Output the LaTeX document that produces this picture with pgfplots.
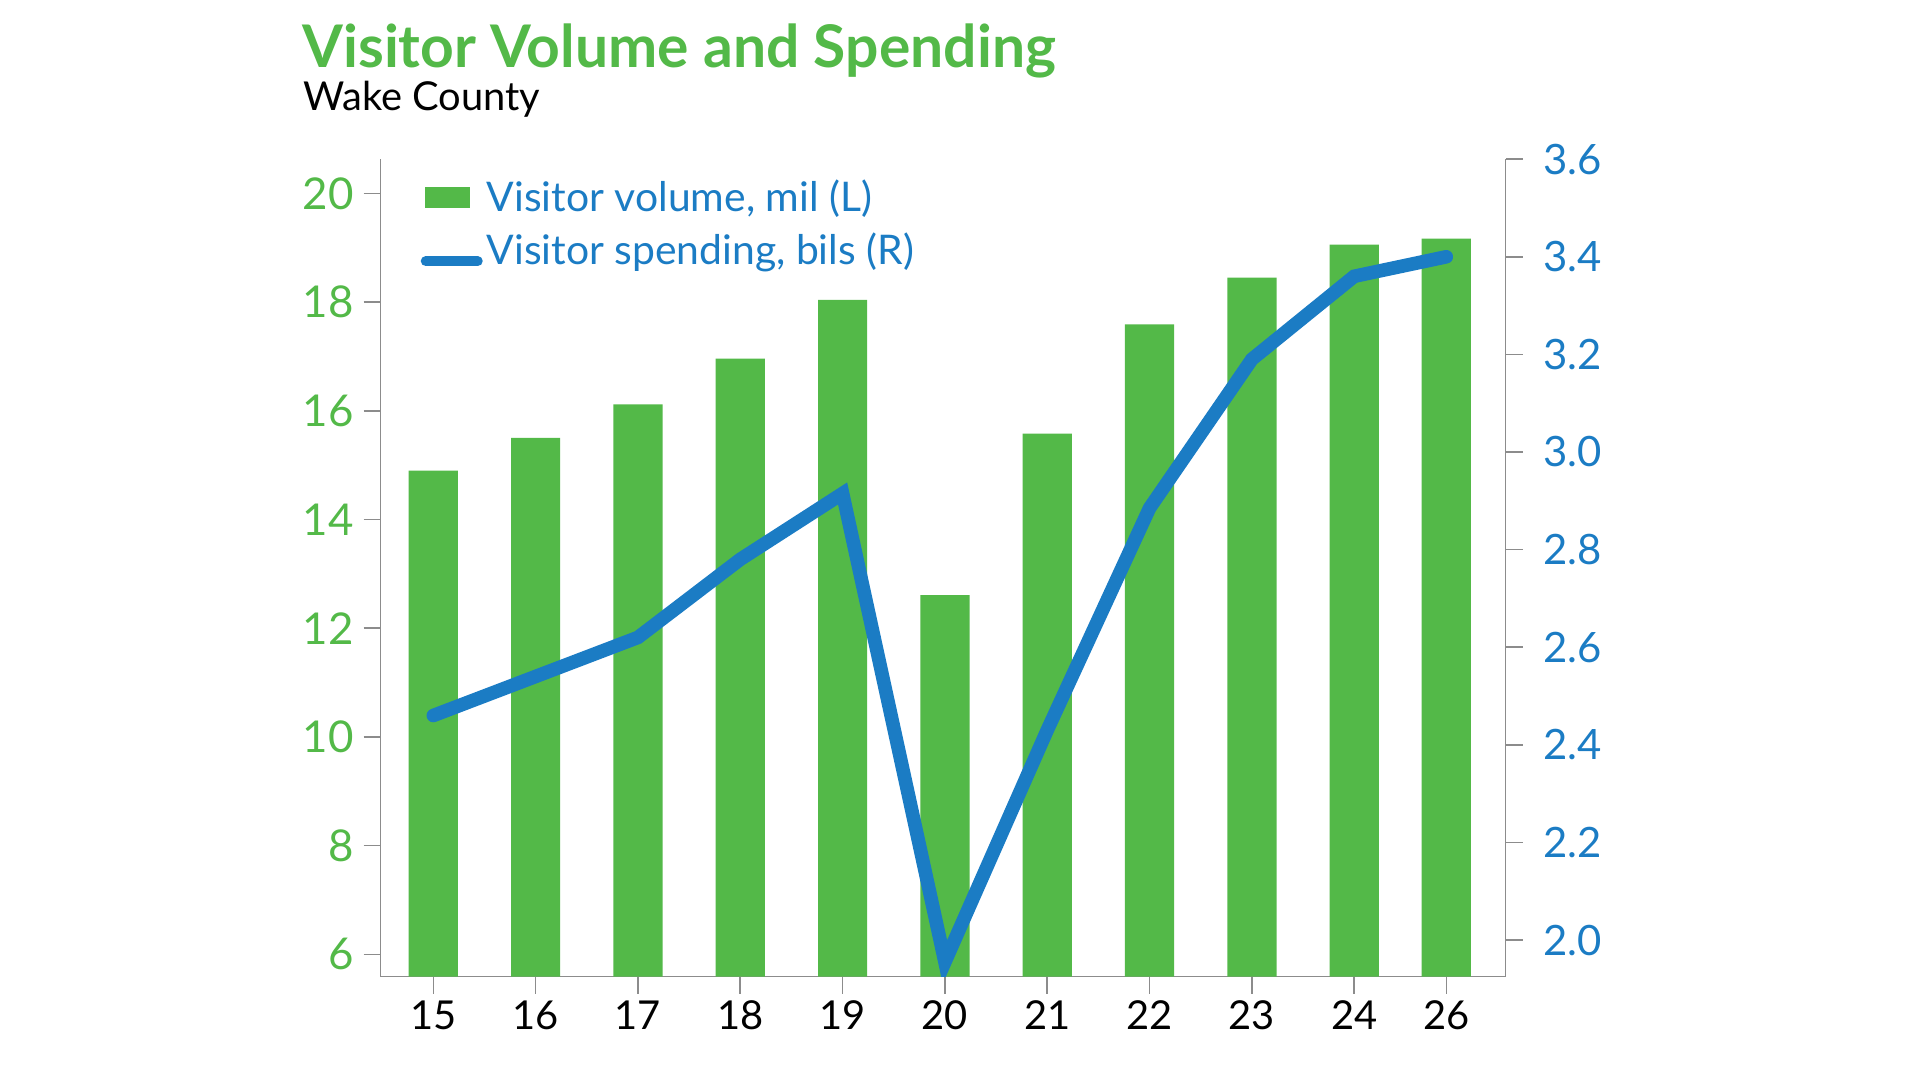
\documentclass[border=0pt]{standalone}
\usepackage{pgfplots}
\pgfplotsset{compat=1.18}
\usepackage{fontspec}
\setmainfont{Lato}
\definecolor{vgreen}{RGB}{83,185,72}
\definecolor{vblue}{RGB}{27,124,196}
\definecolor{axgray}{RGB}{140,140,140}
\begin{document}
\begin{tikzpicture}[x=0.5bp,y=0.5bp]
\useasboundingbox (0,0) rectangle (1920,1080);
\node[anchor=base west, font=\fontsize{29.5}{33}\selectfont\bfseries, text=vgreen, inner sep=0] at (302,1012) {Visitor Volume and Spending};
\node[anchor=base west, font=\fontsize{20}{24}\selectfont, inner sep=0] at (303,969) {Wake County};
\begin{axis}[
  at={(190.3bp,51.7bp)}, anchor=south west,
  width=562.5bp, height=408.7bp, scale only axis,
  xmin=-0.515, xmax=10.48, ymin=5.59, ymax=20.63,
  axis x line*=bottom, axis y line*=left,
  axis line style={axgray, line width=0.8pt},
  xtick={0,1,2,3,4,5,6,7,8,9,9.9},
  xticklabels={15,16,17,18,19,20,21,22,23,24,26},
  ytick={6,8,10,12,14,16,18,20},
  tick style={axgray, line width=0.8pt},
  tick align=outside, major tick length=8.5bp,
  yticklabel style={text=vgreen, font=\fontsize{22}{25}\selectfont, xshift=-1.5bp},
  xticklabel style={font=\fontsize{20}{24}\selectfont},
  /pgf/number format/assume math mode=true,
]
\addplot[ybar, bar width=24.6bp, fill=vgreen, draw=none] coordinates {
(0,14.9) (1,15.5) (2,16.12) (3,16.96) (4,18.04) (5,12.61) (6,15.58) (7,17.59) (8,18.45) (9,19.06) (9.9,19.17)};
\end{axis}
\begin{axis}[
  at={(190.3bp,51.7bp)}, anchor=south west,
  width=562.5bp, height=408.7bp, scale only axis,
  xmin=-0.515, xmax=10.48, ymin=1.925, ymax=3.6,
  axis x line=none, axis y line*=right,
  axis line style={axgray, line width=0.8pt},
  ytick={2,2.2,2.4,2.6,2.8,3,3.2,3.4,3.6},
  tick style={axgray, line width=0.8pt},
  tick align=outside, major tick length=8.5bp,
  yticklabel style={text=vblue, font=\fontsize{21}{24}\selectfont, xshift=7bp,
    /pgf/number format/.cd, fixed, fixed zerofill, precision=1},
  /pgf/number format/assume math mode=true,
  legend style={draw=none, fill=none, text=vblue, font=\fontsize{20.5}{24}\selectfont,
    at={(0.030,0.985)}, anchor=north west, row sep=5.2bp},
  legend cell align=left,
]
\addlegendimage{legend image code/.code={\fill[vgreen] (0bp,-5bp) rectangle (22bp,5bp);}}
\addlegendentry{Visitor volume, mil (L)}
\addplot[vblue, line width=6.8bp, line cap=round, legend image code/.code={\draw[vblue, line width=5bp] (0bp,-5.5bp) -- (26bp,-5.5bp);}] coordinates {
(0,2.46) (1,2.54) (2,2.62) (3,2.78) (4,2.915) (5,1.955) (6,2.43) (7,2.885) (8,3.19) (9,3.36) (9.9,3.40)};
\addlegendentry{Visitor spending, bils (R)}
\end{axis}
\end{tikzpicture}
\end{document}
